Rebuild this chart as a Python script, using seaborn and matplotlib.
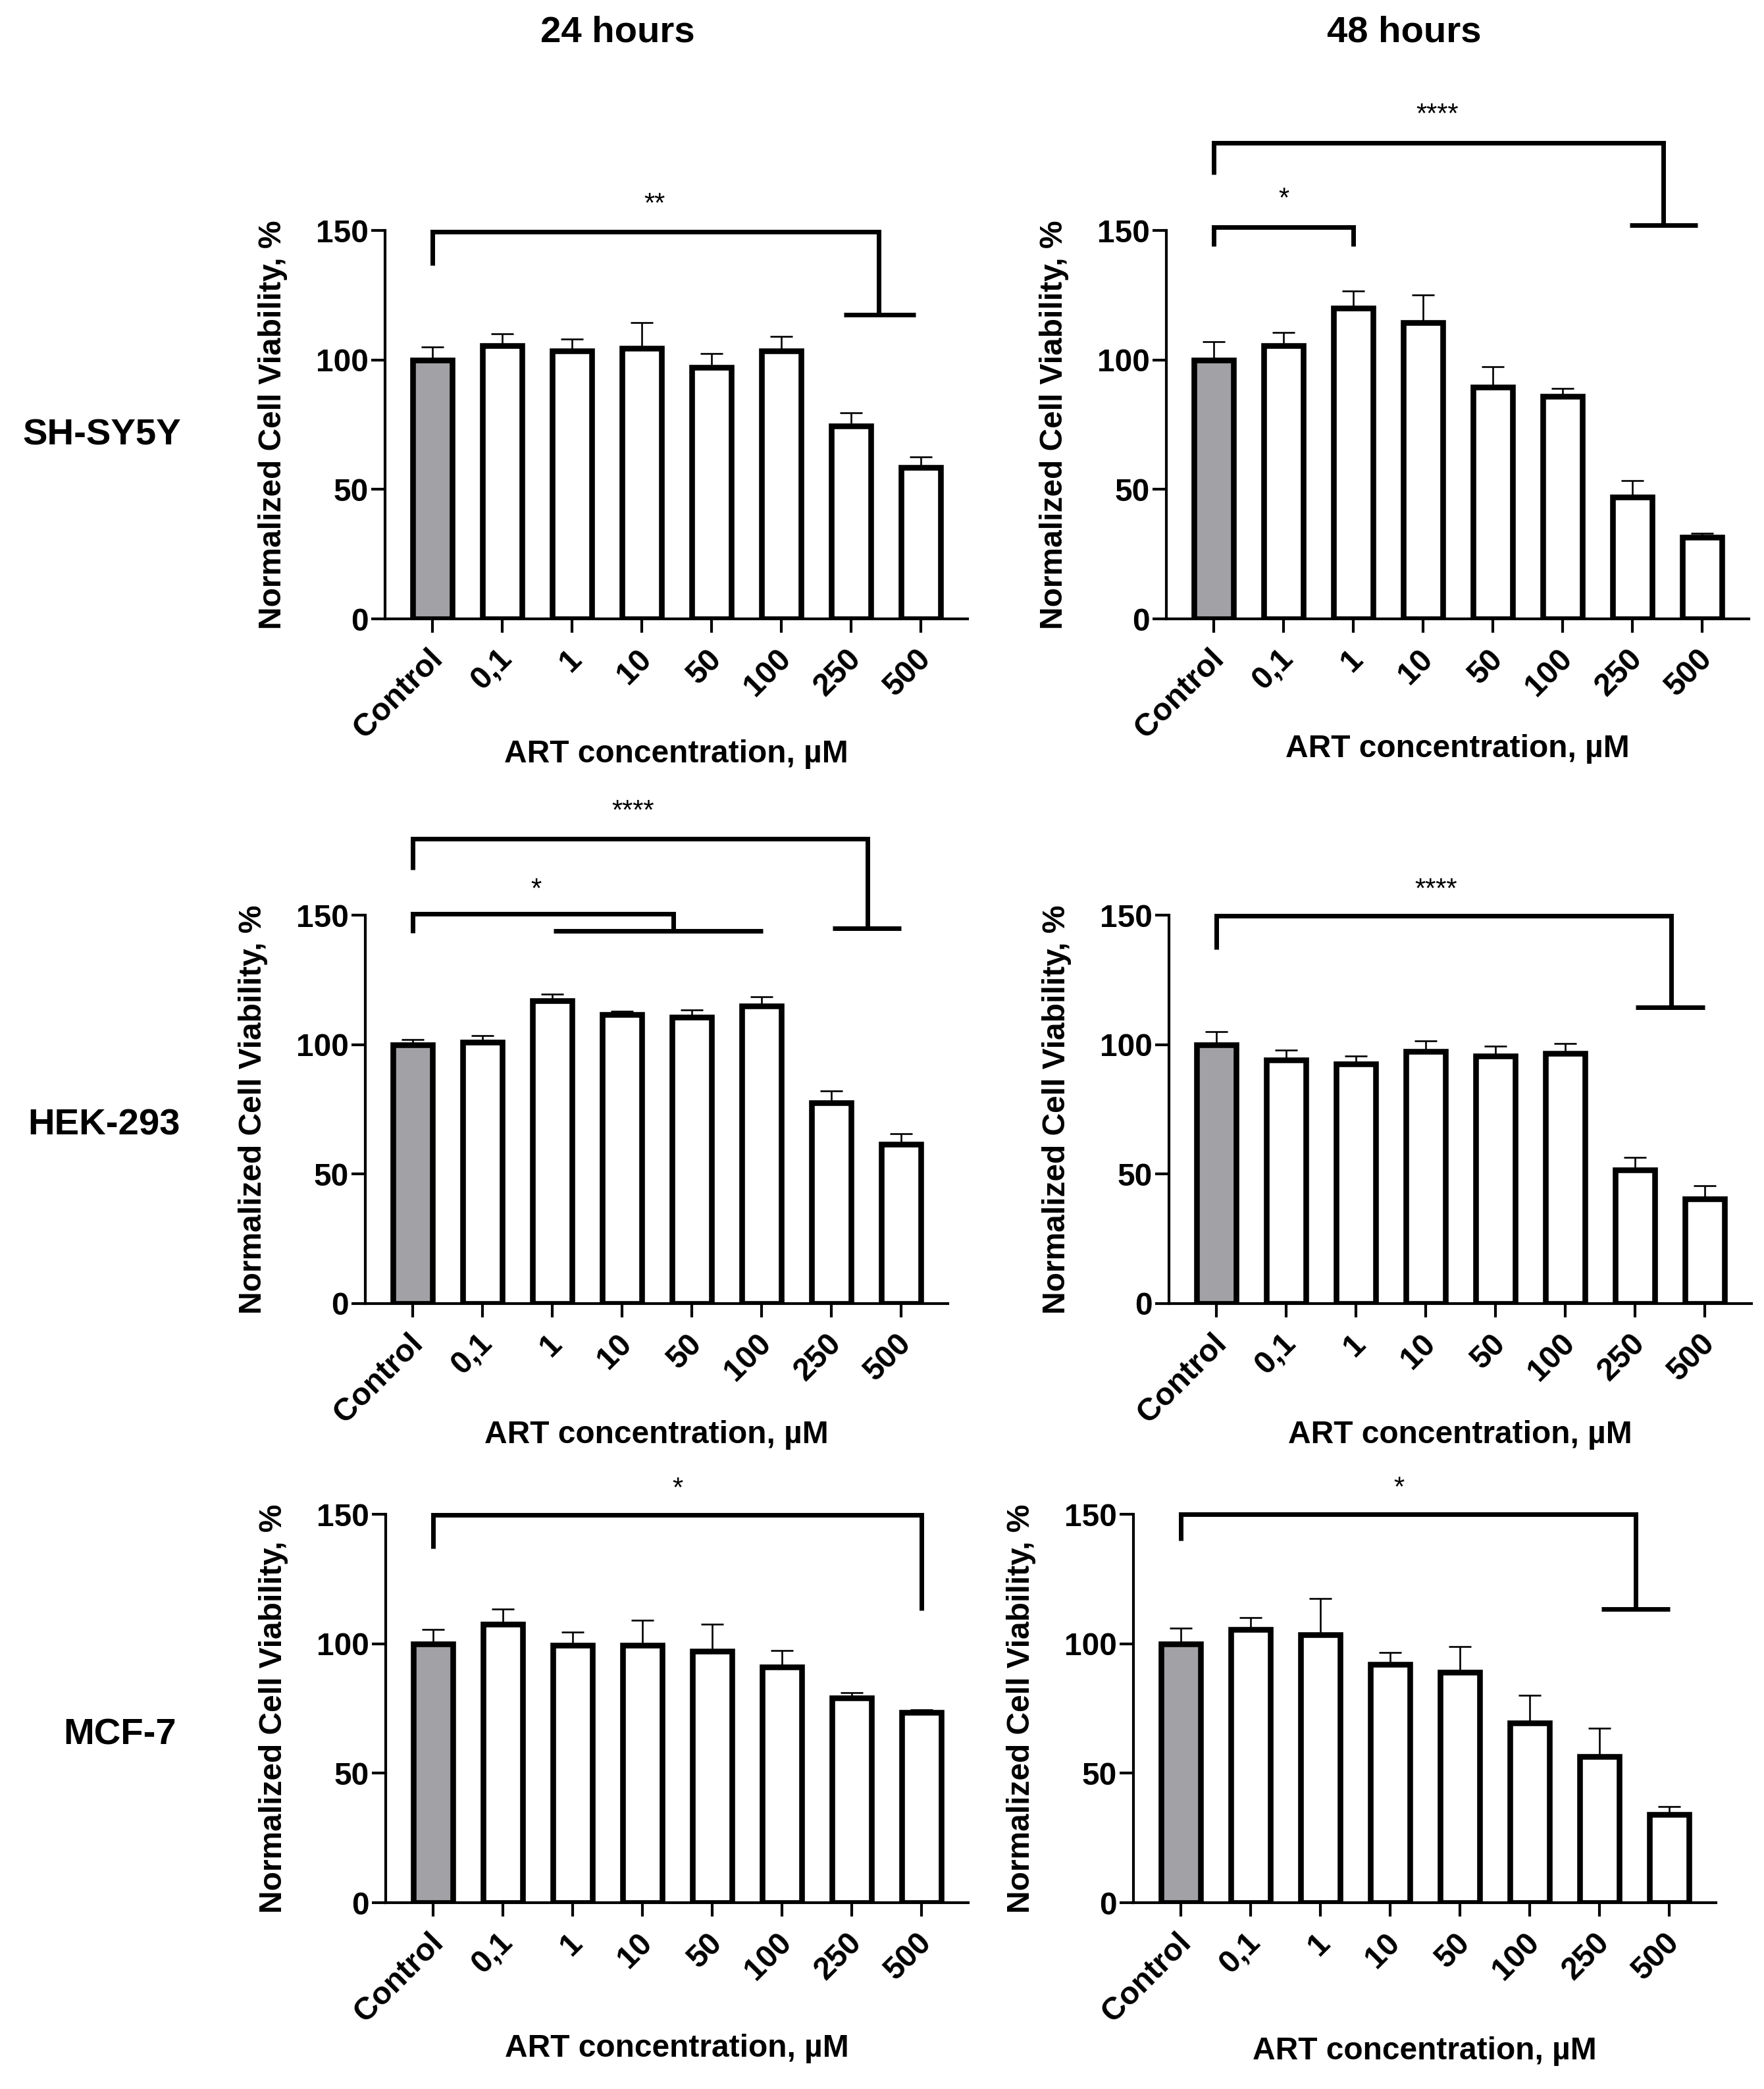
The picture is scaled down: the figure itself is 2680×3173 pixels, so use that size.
import numpy as np
import pandas as pd
import matplotlib
matplotlib.use("Agg")
import matplotlib.pyplot as plt
import seaborn as sns
from matplotlib.transforms import ScaledTranslation

sns.set_theme(style="ticks")
plt.rcParams["font.family"] = ["Liberation Sans", "DejaVu Sans"]

# ---------------- data ----------------
categories = ["Control", "0,1", "1", "10", "50", "100", "250", "500"]
cell_lines = ["SH-SY5Y", "HEK-293", "MCF-7"]
time_points = ["24 hours", "48 hours"]

shsy5y_24_mean = [100, 105.5, 103.5, 104.5, 97, 103.5, 74.5, 58.5]
shsy5y_24_sd = [5, 4.5, 4.5, 10, 5.5, 5.5, 5, 4]
shsy5y_48_mean = [100, 105.5, 120, 114.5, 89.5, 86, 47, 31.5]
shsy5y_48_sd = [7, 5, 6.5, 10.5, 8, 3, 6.5, 1.5]
hek_24_mean = [100, 101, 117, 111.5, 110.5, 115, 77.5, 61.5]
hek_24_sd = [2, 2.5, 2.5, 1.5, 3, 3.5, 4.5, 4]
hek_48_mean = [100, 94, 92.5, 97.5, 95.5, 96.5, 51.5, 40.5]
hek_48_sd = [5, 4, 3, 4, 4, 4, 5, 5]
mcf7_24_mean = [100, 107.5, 99.5, 99.5, 97, 91, 79, 73.5]
mcf7_24_sd = [5.5, 6, 5, 9.5, 10.5, 6.5, 2, 1]
mcf7_48_mean = [100, 105.5, 103.5, 92, 89, 69.5, 56.5, 34]
mcf7_48_sd = [6, 4.5, 14, 4.5, 10, 10.5, 11, 3]

means = [[shsy5y_24_mean, shsy5y_48_mean],
         [hek_24_mean, hek_48_mean],
         [mcf7_24_mean, mcf7_48_mean]]
sds = [[shsy5y_24_sd, shsy5y_48_sd],
       [hek_24_sd, hek_48_sd],
       [mcf7_24_sd, mcf7_48_sd]]

# significance annotations (bracket polylines in data coords, star labels)
annotations = [
    [
        dict(lines=[[(0, 136.5), (0, 149.5), (6.4, 149.5), (6.4, 117.5)],
                    [(5.9, 117.5), (6.92, 117.5)]],
             stars=[("**", 3.18, 162)]),
        dict(lines=[[(0, 171.5), (0, 183.8), (6.44, 183.8), (6.44, 152)],
                    [(5.96, 152), (6.93, 152)],
                    [(0, 144), (0, 151.2), (2.0, 151.2), (2.0, 144)]],
             stars=[("****", 3.2, 196.5), ("*", 1.0, 164)]),
    ],
    [
        dict(lines=[[(0, 167.5), (0, 179.6), (6.52, 179.6), (6.52, 144.8)],
                    [(6.02, 144.8), (7.0, 144.8)],
                    [(0, 143.2), (0, 150.6), (3.74, 150.6), (3.74, 143.8)],
                    [(2.02, 143.8), (5.02, 143.8)]],
             stars=[("****", 3.16, 191.8), ("*", 1.77, 161.7)]),
        dict(lines=[[(0, 136.8), (0, 149.7), (6.52, 149.7), (6.52, 114.3)],
                    [(6.01, 114.3), (7.0, 114.3)]],
             stars=[("****", 3.15, 161.7)]),
    ],
    [
        dict(lines=[[(0, 136.8), (0, 149.7), (7.0, 149.7), (7.0, 113)]],
             stars=[("*", 3.5, 161.7)]),
        dict(lines=[[(0, 139.8), (0, 150), (6.52, 150), (6.52, 113.4)],
                    [(6.03, 113.4), (7.01, 113.4)]],
             stars=[("*", 3.13, 162)]),
    ],
]

# ---------------- layout ----------------
W, H = 2680, 3173
fig = plt.figure(figsize=(W / 100, H / 100), dpi=100)
fig.patch.set_facecolor("white")

AX_W, AX_H = 885, 590
lefts = [[585, 1772], [555, 1776], [586, 1722]]
bottoms = [940, 1980, 2890]
xlabel_offsets = [[205, 197], [199, 199], [222, 225]]

col_title_pos = [(938, 50), (2133, 50)]
row_label_pos = [(155, 662), (158, 1710), (182, 2636)]

CONTROL_GREY = "#a2a2a6"
palette = {c: ("white" if c != "Control" else CONTROL_GREY) for c in categories}

for r in range(3):
    for c in range(2):
        left = lefts[r][c]
        bottom = bottoms[r]
        ax = fig.add_axes([left / W, 1 - bottom / H, AX_W / W, AX_H / H])
        df = pd.DataFrame({"conc": categories, "viability": means[r][c]})
        sns.barplot(data=df, x="conc", y="viability", hue="conc",
                    palette=palette, legend=False, errorbar=None,
                    width=0.56, edgecolor="black", linewidth=6.2,
                    saturation=1, ax=ax, zorder=2)
        xs = np.arange(len(categories))
        ax.errorbar(xs, means[r][c],
                    yerr=[np.zeros(len(categories)), sds[r][c]],
                    fmt="none", ecolor="black", elinewidth=1.9,
                    capsize=12, capthick=1.9, zorder=1)
        ax.set_xlim(-0.68, 7.67)
        ax.set_ylim(0, 150)
        ax.set_yticks([0, 50, 100, 150])
        ax.set_facecolor("white")
        sns.despine(ax=ax)
        for s in ["left", "bottom"]:
            ax.spines[s].set_linewidth(3)
            ax.spines[s].set_color("black")
        ax.tick_params(axis="both", width=3, length=15, color="black",
                       labelsize=34.5, labelcolor="black")
        ax.tick_params(axis="y", pad=3)
        ax.tick_params(axis="x", pad=24)
        ax.set_xticks(xs)
        ax.set_xticklabels(categories)
        shift = ScaledTranslation(8 / 100, 0, fig.dpi_scale_trans)
        for lab in ax.get_xticklabels():
            lab.set_rotation(45)
            lab.set_ha("right")
            lab.set_va("center")
            lab.set_rotation_mode("anchor")
            lab.set_fontweight("bold")
            lab.set_transform(lab.get_transform() + shift)
        for lab in ax.get_yticklabels():
            lab.set_fontweight("bold")
        ax.set_ylabel("Normalized Cell Viability, %", fontsize=34.5,
                      fontweight="bold", color="black")
        ax.yaxis.set_label_coords(-148 / AX_W, 0.5)
        ax.set_xlabel("ART concentration, µM", fontsize=34.5,
                      fontweight="bold", color="black")
        ax.xaxis.set_label_coords(0.5, -xlabel_offsets[r][c] / AX_H)
        ax.xaxis.label.set_va("center")

        ann = annotations[r][c]
        for line in ann["lines"]:
            lx = [p[0] for p in line]
            ly = [p[1] for p in line]
            ax.plot(lx, ly, color="black", lw=5, clip_on=False,
                    solid_capstyle="butt", solid_joinstyle="miter", zorder=3)
        for txt, sx, sy in ann["stars"]:
            ax.text(sx, sy - 2, txt, ha="center", va="center",
                    fontsize=30, color="black", clip_on=False)

for (x, y), t in zip(col_title_pos, time_points):
    fig.text(x / W, 1 - y / H, t, ha="center", va="center",
             fontsize=40.5, fontweight="bold", color="black")
for (x, y), t in zip(row_label_pos, cell_lines):
    fig.text(x / W, 1 - y / H, t, ha="center", va="center",
             fontsize=40.5, fontweight="bold", color="black")

fig.savefig("out.png", dpi=100, facecolor="white")
